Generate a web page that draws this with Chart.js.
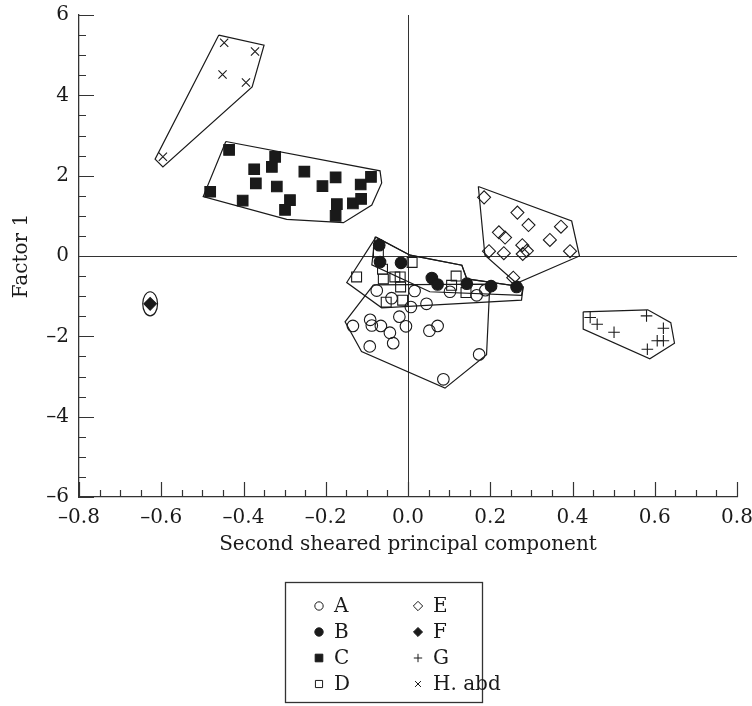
<!DOCTYPE html>
<html>
<head>
<meta charset="utf-8">
<script src="https://cdn.jsdelivr.net/npm/chart.js@4.4.0/dist/chart.umd.min.js"></script>
<style>
  html, body { margin: 0; padding: 0; background: #fff; }
</style>
</head>
<body>
<canvas id="chart" width="752" height="706"></canvas>
<script>
'use strict';

// tick labels
const xTicks = [-0.8, -0.6, -0.4, -0.2, 0, 0.2, 0.4, 0.6, 0.8];
const yTicks = [-6, -4, -2, 0, 2, 4, 6];
const xMinorStep = 0.05;
const yMinorStep = 0.5;

// group labels
const groups = ['A', 'B', 'C', 'D', 'E', 'F', 'G', 'H. abd'];

// points, [second sheared PC, factor 1]
const ptsA = [[-0.076, -0.86], [-0.040, -1.05], [0.016, -0.87], [0.007, -1.27], [0.045, -1.19],
  [-0.021, -1.51], [-0.005, -1.75], [-0.134, -1.74], [-0.092, -1.59], [-0.088, -1.73],
  [-0.066, -1.74], [-0.044, -1.91], [0.052, -1.86], [0.072, -1.74], [-0.093, -2.25],
  [-0.036, -2.17], [0.173, -2.45], [0.086, -3.07], [0.102, -0.89], [0.167, -0.98], [0.188, -0.85]];
const ptsB = [[-0.070, 0.27], [-0.068, -0.15], [-0.017, -0.17], [0.058, -0.55], [0.072, -0.71],
  [0.143, -0.69], [0.202, -0.75], [0.264, -0.77]];
const ptsC = [[-0.435, 2.64], [-0.323, 2.47], [-0.374, 2.16], [-0.331, 2.22], [-0.252, 2.10],
  [-0.176, 1.96], [-0.090, 1.97], [-0.370, 1.81], [-0.319, 1.73], [-0.208, 1.74],
  [-0.115, 1.78], [-0.481, 1.60], [-0.402, 1.38], [-0.287, 1.39], [-0.299, 1.15],
  [-0.173, 1.29], [-0.134, 1.31], [-0.114, 1.42], [-0.176, 1.00]];
const ptsD = [[-0.125, -0.52], [-0.072, 0.08], [-0.062, -0.33], [-0.060, -0.57], [-0.032, -0.52],
  [-0.019, -0.52], [0.010, -0.16], [-0.018, -0.77], [-0.053, -1.15], [-0.013, -1.10],
  [0.117, -0.50], [0.106, -0.73], [0.141, -0.91]];
const ptsE = [[0.185, 1.46], [0.266, 1.08], [0.293, 0.77], [0.372, 0.73], [0.221, 0.59],
  [0.236, 0.46], [0.345, 0.40], [0.278, 0.27], [0.289, 0.13], [0.279, 0.05],
  [0.197, 0.12], [0.233, 0.07], [0.394, 0.12], [0.256, -0.54]];
const ptsF = [[-0.627, -1.19]];
const ptsG = [[0.443, -1.53], [0.460, -1.70], [0.501, -1.90], [0.580, -1.49], [0.621, -1.80],
  [0.606, -2.11], [0.621, -2.11], [0.582, -2.32]];
const ptsH = [[-0.447, 5.31], [-0.372, 5.09], [-0.451, 4.52], [-0.394, 4.32], [-0.596, 2.47]];

// group outlines
const hullA = [[-0.084, -0.72], [0.199, -0.70], [0.191, -2.46], [0.090, -3.29], [-0.113, -2.38], [-0.153, -1.64]];
const hullB = [[-0.080, 0.48], [0.005, 0.02], [0.131, -0.23], [0.143, -0.57], [0.280, -0.77],
  [0.276, -0.98], [0.053, -0.89], [-0.088, -0.22]];
const hullC = [[-0.443, 2.85], [-0.068, 2.12], [-0.064, 1.82], [-0.088, 1.27], [-0.157, 0.83],
  [-0.295, 0.91], [-0.498, 1.48]];
const hullD = [[-0.078, 0.47], [0.005, 0.02], [0.131, -0.23], [0.143, -0.57], [0.280, -0.77],
  [0.276, -1.10], [-0.064, -1.29], [-0.149, -0.66]];
const hullE = [[0.171, 1.73], [0.398, 0.87], [0.417, 0.00], [0.264, -0.68], [0.187, 0.02]];
const hullG = [[0.426, -1.39], [0.583, -1.34], [0.639, -1.66], [0.648, -2.17], [0.588, -2.56], [0.426, -1.82]];
const hullH = [[-0.460, 5.50], [-0.350, 5.25], [-0.379, 4.21], [-0.596, 2.22], [-0.615, 2.41]];
const ellipseF = {rx: 0.018, ry: 0.30};

const INK = '#1a1a1a';
const FONT = 'DejaVu Serif';

function toXY(list) {
    return list.map(p => ({x: p[0], y: p[1]}));
}

function closed(list) {
    return toXY(list.concat([list[0]]));
}

function fmt(v, digits) {
    const s = Math.abs(v).toFixed(digits);
    return v < 0 ? '\u2013' + s : s;
}

const markerStyles = [
    {style: 'circle', r: 5.8, fill: false},
    {style: 'circle', r: 5.8, fill: true},
    {style: 'rect', r: 7.5, fill: true},
    {style: 'rect', r: 7, fill: false},
    {style: 'rectRot', r: 6.5, fill: false},
    {style: 'rectRot', r: 6.3, fill: true},
    {style: 'cross', r: 5.8, fill: false},
    {style: 'crossRot', r: 5.8, fill: false}
];

const pointSets = [ptsA, ptsB, ptsC, ptsD, ptsE, ptsF, ptsG, ptsH];
const hulls = [hullA, hullB, hullC, hullD, hullE, hullG, hullH];

const datasets = [];

pointSets.forEach((pts, i) => {
    const m = markerStyles[i];
    datasets.push({
        label: groups[i],
        data: toXY(pts),
        pointStyle: m.style,
        pointRadius: m.r,
        pointHoverRadius: m.r,
        pointBorderWidth: 1.1,
        pointBorderColor: INK,
        pointBackgroundColor: m.fill ? INK : 'rgba(0,0,0,0)',
        showLine: false,
        order: 1
    });
});

hulls.forEach(h => {
    datasets.push({
        label: '',
        data: closed(h),
        showLine: true,
        borderColor: INK,
        borderWidth: 1.2,
        pointRadius: 0,
        pointHoverRadius: 0,
        fill: false,
        tension: 0,
        order: 2
    });
});

// symbol drawing for the legend box
function drawSymbol(ctx, m, x, y, r) {
    ctx.beginPath();
    if (m.style === 'circle') {
        ctx.arc(x, y, r, 0, Math.PI * 2);
    } else if (m.style === 'rect') {
        const s = r * Math.SQRT1_2;
        ctx.rect(x - s, y - s, 2 * s, 2 * s);
    } else if (m.style === 'rectRot') {
        ctx.moveTo(x, y - r);
        ctx.lineTo(x + r, y);
        ctx.lineTo(x, y + r);
        ctx.lineTo(x - r, y);
        ctx.closePath();
    } else if (m.style === 'cross') {
        ctx.moveTo(x - r, y); ctx.lineTo(x + r, y);
        ctx.moveTo(x, y - r); ctx.lineTo(x, y + r);
    } else if (m.style === 'crossRot') {
        const s = r * Math.SQRT1_2;
        ctx.moveTo(x - s, y - s); ctx.lineTo(x + s, y + s);
        ctx.moveTo(x - s, y + s); ctx.lineTo(x + s, y - s);
    }
    if (m.fill) {
        ctx.fill();
    }
    ctx.stroke();
}

const framePlugin = {
    id: 'frame',
    beforeDatasetsDraw(chart) {
        const {ctx, chartArea: a} = chart;
        const xs = chart.scales.x;
        const ys = chart.scales.y;
        ctx.save();
        ctx.strokeStyle = '#333';
        ctx.lineWidth = 1;

        // zero lines
        const x0 = Math.round(xs.getPixelForValue(0)) + 0.5;
        const y0 = Math.round(ys.getPixelForValue(0)) + 0.5;
        ctx.beginPath();
        ctx.moveTo(x0, a.top);
        ctx.lineTo(x0, a.bottom);
        ctx.moveTo(a.left, y0);
        ctx.lineTo(a.right, y0);
        ctx.stroke();

        // inward ticks
        ctx.lineWidth = 1.2;
        ctx.beginPath();
        const nx = Math.round((xTicks[xTicks.length - 1] - xTicks[0]) / xMinorStep);
        for (let i = 0; i <= nx; i++) {
            const px = Math.round(xs.getPixelForValue(xTicks[0] + i * xMinorStep)) + 0.5;
            const len = i % 4 === 0 ? 15 : 7;
            ctx.moveTo(px, a.bottom);
            ctx.lineTo(px, a.bottom - len);
        }
        const ny = Math.round((yTicks[yTicks.length - 1] - yTicks[0]) / yMinorStep);
        for (let i = 0; i <= ny; i++) {
            const py = Math.round(ys.getPixelForValue(yTicks[0] + i * yMinorStep)) + 0.5;
            const len = i % 4 === 0 ? 15 : 7;
            ctx.moveTo(a.left, py);
            ctx.lineTo(a.left + len, py);
        }
        ctx.stroke();
        ctx.restore();
    },
    afterDatasetsDraw(chart) {
        const {ctx} = chart;
        const xs = chart.scales.x;
        const ys = chart.scales.y;
        const c = ptsF[0];
        const cx = xs.getPixelForValue(c[0]);
        const cy = ys.getPixelForValue(c[1]);
        const rx = Math.abs(xs.getPixelForValue(c[0] + ellipseF.rx) - cx);
        const ry = Math.abs(ys.getPixelForValue(c[1] + ellipseF.ry) - cy);
        ctx.save();
        ctx.strokeStyle = INK;
        ctx.lineWidth = 1.2;
        ctx.beginPath();
        ctx.ellipse(cx, cy, rx, ry, 0, 0, Math.PI * 2);
        ctx.stroke();
        ctx.restore();
    },
    afterDraw(chart) {
        // legend box below the plot
        const {ctx} = chart;
        const box = {left: 285.5, top: 582.5, width: 197, height: 120};
        ctx.save();
        ctx.strokeStyle = '#333';
        ctx.lineWidth = 1.3;
        ctx.strokeRect(box.left, box.top, box.width, box.height);
        ctx.font = '20px "' + FONT + '"';
        ctx.textBaseline = 'middle';
        ctx.textAlign = 'left';
        ctx.fillStyle = INK;
        ctx.strokeStyle = INK;
        ctx.lineWidth = 1;
        groups.forEach((g, i) => {
            const col = Math.floor(i / 4);
            const row = i % 4;
            const sx = col === 0 ? 319 : 418;
            const sy = 606 + row * 26;
            drawSymbol(ctx, markerStyles[i], sx, sy, markerStyles[i].r * 0.72);
            ctx.fillText(g, sx + 15, sy + 1);
        });
        ctx.restore();
    }
};

new Chart(document.getElementById('chart'), {
    type: 'scatter',
    data: {datasets: datasets},
    options: {
        responsive: false,
        animation: false,
        events: [],
        layout: {
            padding: {left: 0, right: 15, top: 15, bottom: 147}
        },
        plugins: {
            legend: {display: false},
            tooltip: {enabled: false}
        },
        scales: {
            x: {
                type: 'linear',
                min: xTicks[0],
                max: xTicks[xTicks.length - 1],
                afterBuildTicks: s => { s.ticks = xTicks.map(v => ({value: v})); },
                afterFit: s => { s.height = 62; s.paddingLeft = 0; s.paddingRight = 0; },
                grid: {display: false, drawTicks: false},
                border: {display: true, color: '#333', width: 1.3},
                ticks: {
                    padding: 9,
                    color: INK,
                    font: {family: FONT, size: 20},
                    maxRotation: 0,
                    callback: v => fmt(v, 1)
                },
                title: {
                    display: true,
                    text: 'Second sheared principal component',
                    color: INK,
                    font: {family: FONT, size: 20},
                    padding: {top: 4, bottom: 2}
                }
            },
            y: {
                type: 'linear',
                min: yTicks[0],
                max: yTicks[yTicks.length - 1],
                afterBuildTicks: s => { s.ticks = yTicks.map(v => ({value: v})); },
                afterFit: s => { s.width = 79; s.paddingTop = 0; s.paddingBottom = 0; },
                grid: {display: false, drawTicks: false},
                border: {display: true, color: '#333', width: 1.3},
                ticks: {
                    padding: 10,
                    color: INK,
                    font: {family: FONT, size: 20},
                    callback: v => fmt(v, 0)
                },
                title: {
                    display: true,
                    text: 'Factor 1',
                    color: INK,
                    font: {family: FONT, size: 20},
                    padding: {top: 10, bottom: 0}
                }
            }
        }
    },
    plugins: [framePlugin]
});
</script>
</body>
</html>
